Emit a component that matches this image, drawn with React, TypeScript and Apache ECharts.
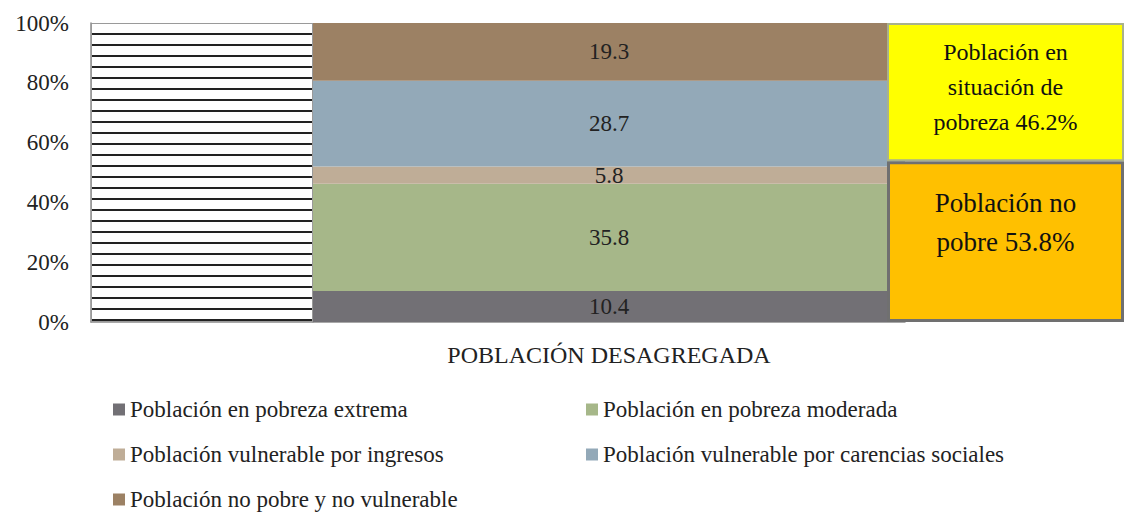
import React, { useEffect, useRef } from "react";
import * as echarts from "echarts";

const categories = ["POBLACIÓN DESAGREGADA"];
const seriesNames = [
  "Población en pobreza extrema",
  "Población en pobreza moderada",
  "Población vulnerable por ingresos",
  "Población vulnerable por carencias sociales",
  "Población no pobre y no vulnerable",
];
const seriesValues = [10.4, 35.8, 5.8, 28.7, 19.3];
const seriesColors = ["#727075", "#a6b789", "#bfad97", "#93a9b8", "#9c8164"];
const totalValue = [100];
const summaryNames = ["Población no pobre", "Población en situación de pobreza"];
const summaryValues = [53.8, 46.2];
const summaryLabels = ["Población no\npobre 53.8%", "Población en\nsituación de\npobreza 46.2%"];
const yTicks = [0, 20, 40, 60, 80, 100];

const FONT = "Liberation Serif";

export default function App() {
  const ref = useRef<HTMLDivElement>(null);
  useEffect(() => {
    if (!ref.current) return;
    const chart = echarts.init(ref.current, undefined, { renderer: "svg" });
    const top = 23;
    const height = 299;
    const grids = [
      { left: 91, top, width: 222, height },
      { left: 313, top, width: 592, height },
      { left: 887, top, width: 262, height },
    ];
    const yAxisBase = {
      type: "value",
      min: yTicks[0],
      max: yTicks[yTicks.length - 1],
      interval: 20,
      splitLine: { show: false },
      axisTick: { show: false },
    };
    const legendBase = {
      orient: "vertical",
      top: 393,
      height: 130,
      itemWidth: 12,
      itemHeight: 12,
      itemGap: 22,
      icon: "rect",
      textStyle: { fontFamily: FONT, fontSize: 23, color: "#222", lineHeight: 22 },
    };
    const option: any = {
      animation: false,
      backgroundColor: "#ffffff",
      textStyle: { fontFamily: FONT },
      grid: grids,
      xAxis: [
        { type: "category", gridIndex: 0, data: categories, axisLabel: { show: false }, axisTick: { show: false }, axisLine: { lineStyle: { color: "#8c8c8c", width: 1.5 } } },
        {
          type: "category",
          gridIndex: 1,
          data: categories,
          axisLabel: { show: false },
          axisTick: { show: false },
          axisLine: { lineStyle: { color: "#8c8c8c", width: 1.5 } },
          name: categories[0],
          nameLocation: "middle",
          nameGap: 21,
          nameTextStyle: { fontFamily: FONT, fontSize: 24, color: "#222" },
        },
        { type: "category", gridIndex: 2, data: categories, show: false },
      ],
      yAxis: [
        {
          ...yAxisBase,
          gridIndex: 0,
          axisLine: { show: true, lineStyle: { color: "#8c8c8c", width: 1.5 } },
          axisLabel: { formatter: "{value}%", fontFamily: FONT, fontSize: 23, color: "#222", margin: 22 },
        },
        { ...yAxisBase, gridIndex: 1, show: false },
        { ...yAxisBase, gridIndex: 2, show: false },
      ],
      legend: [
        { ...legendBase, data: [seriesNames[0], seriesNames[2], seriesNames[4]], left: 108 },
        { ...legendBase, data: [seriesNames[1], seriesNames[3]], left: 581 },
      ],
      series: [
        {
          name: "hatch",
          type: "bar",
          xAxisIndex: 0,
          yAxisIndex: 0,
          barWidth: "100%",
          data: totalValue,
          silent: true,
          itemStyle: {
            color: "#ffffff",
            borderColor: "#9a9a9a",
            borderWidth: 1,
            decal: {
              symbol: "rect",
              symbolSize: 1,
              color: "#222222",
              dashArrayX: [1, 0],
              dashArrayY: [2, 8.8],
              rotation: 0,
            },
          },
        },
        ...seriesNames.map((name, i) => ({
          name,
          type: "bar",
          stack: "total",
          xAxisIndex: 1,
          yAxisIndex: 1,
          barWidth: "100%",
          data: [seriesValues[i]],
          itemStyle: { color: seriesColors[i] },
          label: {
            show: true,
            position: "inside",
            formatter: (p: any) => String(p.value),
            fontFamily: FONT,
            fontSize: 23,
            color: "#222",
          },
        })),
        {
          name: summaryNames[0],
          type: "bar",
          stack: "summary",
          xAxisIndex: 2,
          yAxisIndex: 2,
          barWidth: "100%",
          z: 5,
          data: [summaryValues[0]],
          itemStyle: { color: "#ffc000", borderColor: "#707070", borderWidth: 3 },
          label: {
            show: true,
            position: "inside",
            offset: [0, -19],
            formatter: summaryLabels[0],
            fontFamily: FONT,
            fontSize: 27,
            lineHeight: 39,
            color: "#111",
          },
        },
        {
          name: summaryNames[1],
          type: "bar",
          stack: "summary",
          xAxisIndex: 2,
          yAxisIndex: 2,
          barWidth: "100%",
          z: 5,
          data: [summaryValues[1]],
          itemStyle: { color: "#ffff00", borderColor: "#a9b18c", borderWidth: 2 },
          label: {
            show: true,
            position: "inside",
            offset: [0, -5],
            formatter: summaryLabels[1],
            fontFamily: FONT,
            fontSize: 24,
            lineHeight: 35,
            color: "#111",
          },
        },
      ],
    };
    chart.setOption(option);
    return () => chart.dispose();
  }, []);
  return (
    <div
      ref={ref}
      style={{ position: "fixed", left: 0, top: 0, width: 1124, height: 513 }}
    />
  );
}
